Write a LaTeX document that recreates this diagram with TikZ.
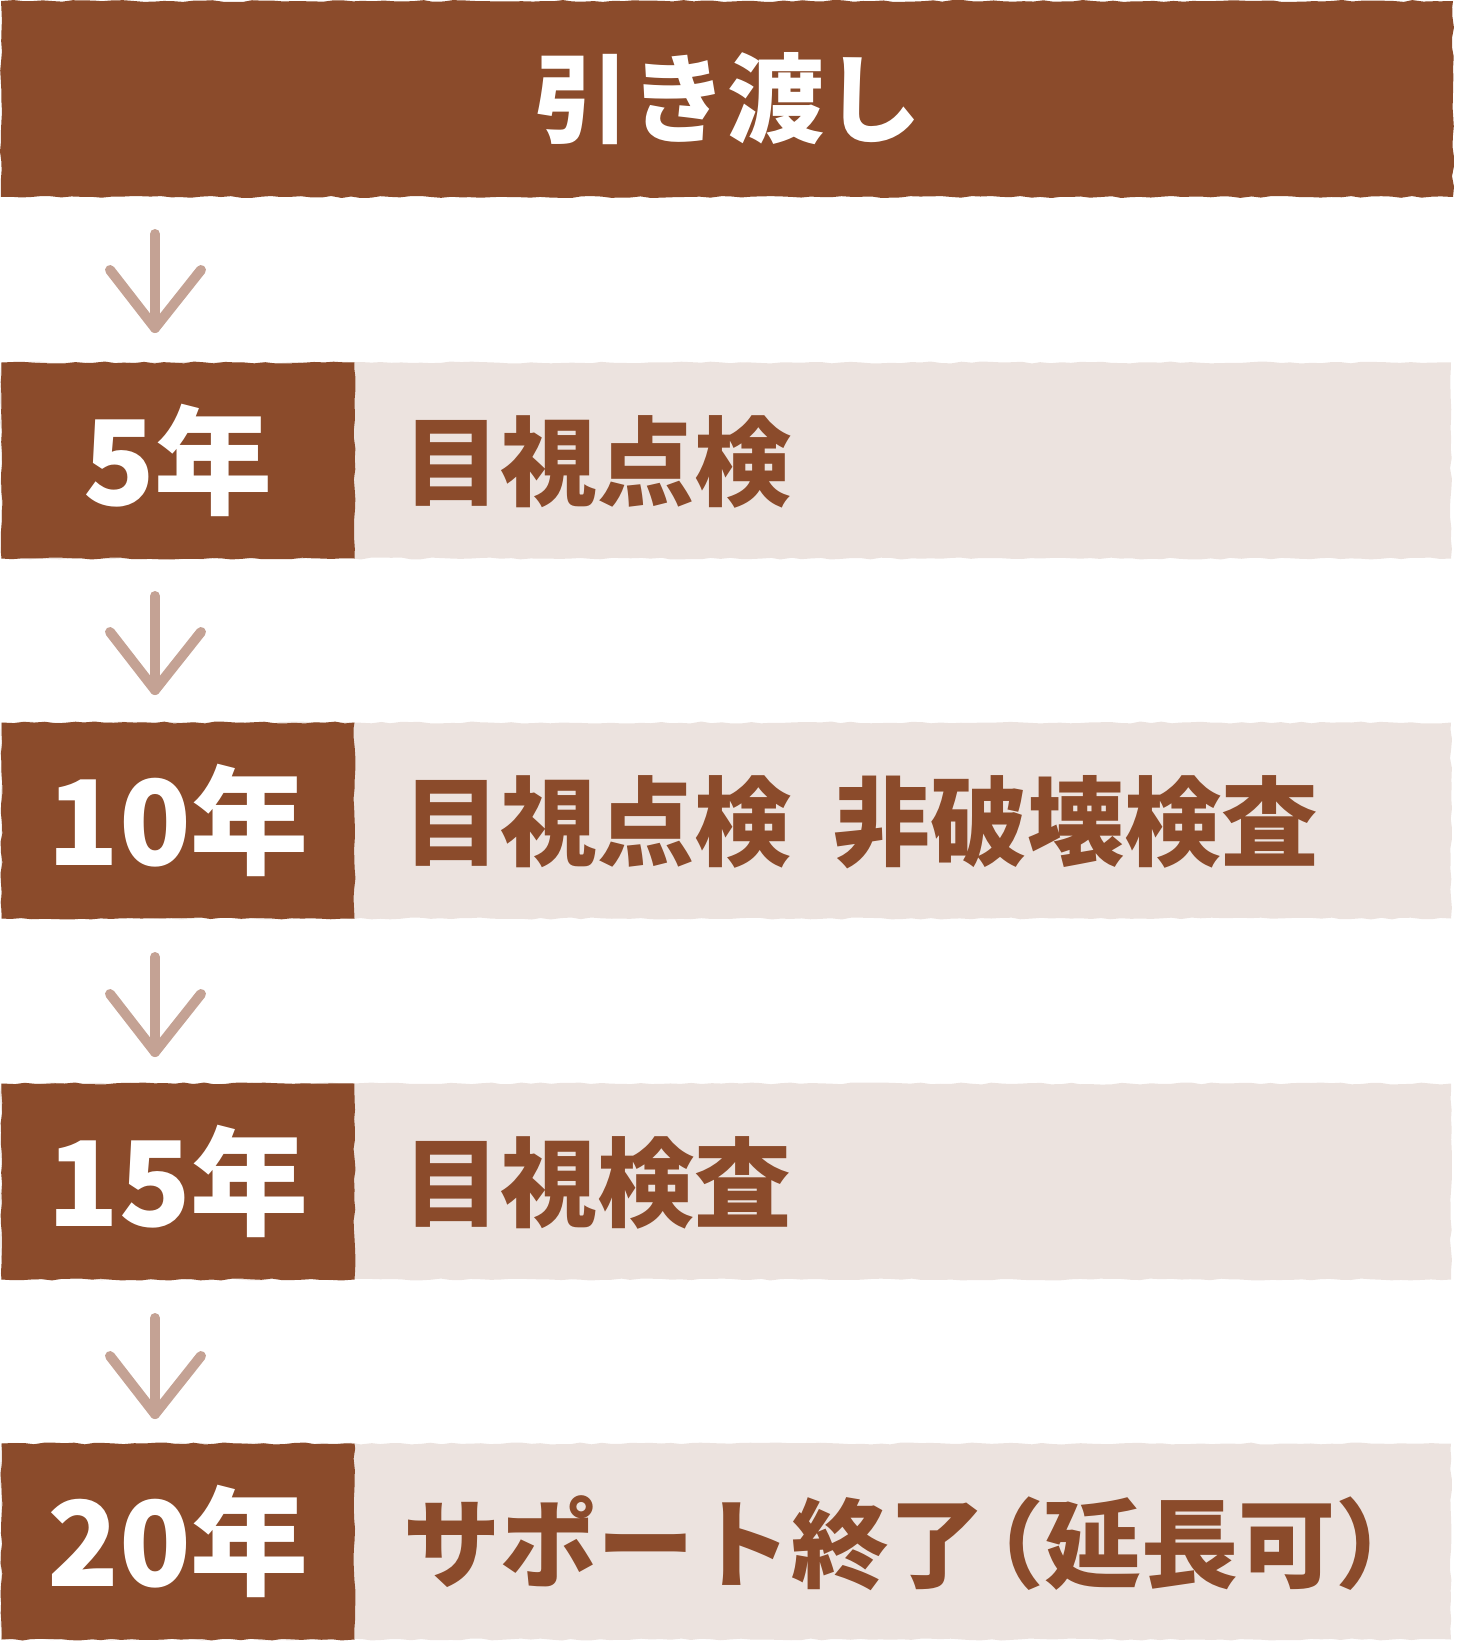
\documentclass[tikz,border=0pt]{standalone}
\usepackage{fontspec}
\newfontfamily\jp{Noto Sans CJK JP}
\usetikzlibrary{decorations.pathmorphing}
\definecolor{darkbrown}{HTML}{8B4B2B}
\definecolor{lightbg}{HTML}{ECE3DF}
\definecolor{arrowc}{HTML}{C4A294}
\pgfmathsetseed{7}
\tikzset{
  rough/.style={decorate,decoration={random steps,segment length=10pt,amplitude=1pt}},
  darkbox/.style={rough,fill=darkbrown,inner sep=0pt,minimum height=196pt,
    text=white,font=\jp\bfseries\fontsize{118}{124}\selectfont},
  topbar/.style={rough,fill=darkbrown,inner sep=0pt,minimum height=196pt,minimum width=1452pt,
    text=white,font=\jp\bfseries\fontsize{97}{102}\selectfont},
  lightbox/.style={rough,fill=lightbg,inner sep=0pt,minimum height=196pt,minimum width=1450pt},
  label/.style={inner sep=0pt,anchor=west,text=darkbrown,font=\jp\bfseries\fontsize{97}{102}\selectfont},
  arrowline/.style={draw=arrowc,line width=10pt,line cap=round,line join=round}
}
\begin{document}
\begin{tikzpicture}[x=1pt,y=-1pt]
\useasboundingbox (0,0) rectangle (1456,1645);
\node[topbar] (top) at (727,99) {引き渡し};
% rows
\foreach \i/\T/\yr/\txt in {1/362/5年/目視点検, 2/722/10年/{目視点検\hspace{42pt}非破壊検査}, 3/1083/15年/目視検査, 4/1443/20年/{サポート終了\hspace{-38pt}（延長可）}}{
  \node[lightbox] (light\i) at (726,\T+98.5) {};
  \node[darkbox,minimum width=353pt] (dark\i) at (178,\T+98.5) {\yr};
  \node[label] (lab\i) at (403,\T+100) {\txt};
}
% arrows
\foreach \i/\ys/\ye in {1/234/328, 2/596/690, 3/957/1052, 4/1318/1414}{
  \coordinate (s\i) at (155,\ys);
  \coordinate (e\i) at (155,\ye);
  \coordinate (l\i) at (110,\ye-58);
  \coordinate (r\i) at (201,\ye-58);
  \draw[arrowline] (s\i) -- (e\i);
  \draw[arrowline] (l\i) -- (e\i) -- (r\i);
}
\end{tikzpicture}
\end{document}
